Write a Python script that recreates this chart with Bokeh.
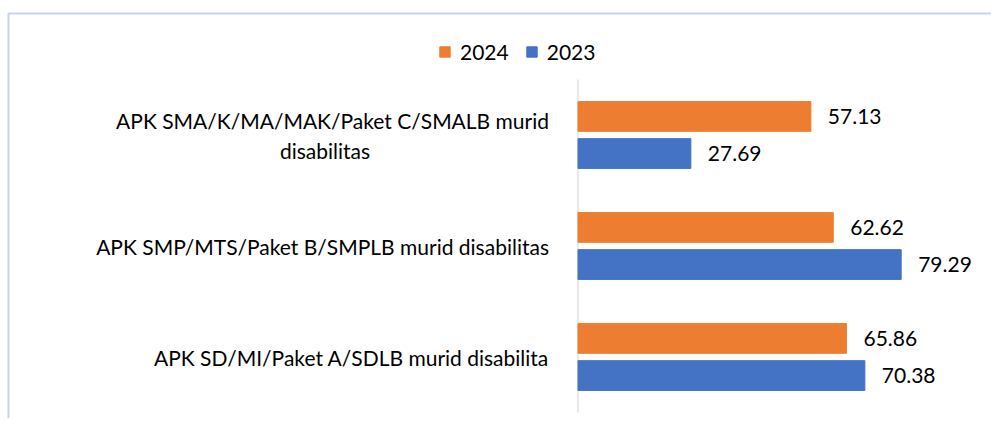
from bokeh.plotting import figure
from bokeh.models import ColumnDataSource, Range1d, Legend, LegendItem, BoxAnnotation
from bokeh.core.properties import value
from bokeh.embed import file_html
from bokeh.resources import INLINE

categories = [
    "APK SD/MI/Paket A/SDLB murid disabilita",
    "APK SMP/MTS/Paket B/SMPLB murid disabilitas",
    "APK SMA/K/MA/MAK/Paket C/SMALB murid\ndisabilitas",
]
values_2024 = [65.86, 62.62, 57.13]
values_2023 = [70.38, 79.29, 27.69]
series_names = ["2024", "2023"]
colors = ["#ED7D31", "#4472C4"]

FONT = "Lato"
FS = "21px"
TXT = "#000000"

W, H = 991, 418
# pixel layout of the plotting area inside the figure
X0_PX, PX_PER_UNIT = 577.5, 4.076
Y0_PX, PX_PER_CAT = 412.0, 111.0

pos = [i + 0.5 for i in range(len(categories))]
off = 0.167
bar_h = 0.268

src = ColumnDataSource(dict(
    y24=[p_ + off for p_ in pos],
    y23=[p_ - off for p_ in pos],
    v24=values_2024,
    v23=values_2023,
    l24=[f"{v:.2f}" for v in values_2024],
    l23=[f"{v:.2f}" for v in values_2023],
))

p = figure(
    width=W, height=H,
    x_range=Range1d(-X0_PX / PX_PER_UNIT, (W - X0_PX) / PX_PER_UNIT),
    y_range=Range1d(-(H - Y0_PX) / PX_PER_CAT, Y0_PX / PX_PER_CAT),
    output_backend="svg", toolbar_location=None,
    min_border=0,
)
p.outline_line_color = None
p.background_fill_color = "white"
p.border_fill_color = "white"
p.grid.visible = False
p.axis.visible = False

# category axis line
p.segment(x0=[0], x1=[0], y0=[0], y1=[len(categories)], line_color="#d9d9d9", line_width=1.2)

r24 = p.hbar(y="y24", right="v24", left=0, height=bar_h, source=src, color=colors[0])
r23 = p.hbar(y="y23", right="v23", left=0, height=bar_h, source=src, color=colors[1])

for ycol, lcol, vcol in (("y24", "l24", "v24"), ("y23", "l23", "v23")):
    p.text(x=vcol, y=ycol, text=lcol, source=src,
           x_offset=17, text_baseline="middle", text_align="left",
           text_font=value(FONT), text_font_size=FS, text_color=TXT)

# category labels (left of the axis line)
first_lines, first_y, first_off = [], [], []
extra_lines, extra_y, extra_off = [], [], []
LINE_SP = 30
for c, yy in zip(categories, pos):
    lines = c.split("\n")
    n = len(lines)
    for i, ln in enumerate(lines):
        yo = (i - (n - 1) / 2) * LINE_SP
        if i == 0:
            first_lines.append(ln); first_y.append(yy); first_off.append(yo)
        else:
            extra_lines.append(ln); extra_y.append(yy); extra_off.append(yo)

p.text(x=[0] * len(first_lines), y=first_y, text=first_lines, y_offset=first_off,
       x_offset=-29, text_align="right", text_baseline="middle",
       text_font=value(FONT), text_font_size=FS, text_color=TXT)
p.text(x=[0] * len(extra_lines), y=extra_y, text=extra_lines, y_offset=extra_off,
       x_offset=-253, text_align="center", text_baseline="middle",
       text_font=value(FONT), text_font_size=FS, text_color=TXT)

legend = Legend(
    items=[LegendItem(label=series_names[0], renderers=[r24]),
           LegendItem(label=series_names[1], renderers=[r23])],
    orientation="horizontal",
    location=(438, 354),
    glyph_width=13, glyph_height=13,
    label_standoff=9, spacing=16,
    label_text_font=FONT, label_text_font_size=FS, label_text_color=TXT,
    background_fill_alpha=0, border_line_color=None,
    padding=0, margin=0,
)
p.add_layout(legend, "center")

border = BoxAnnotation(left=8, right=5000, top=13, bottom=5000,
                       left_units="canvas", right_units="canvas",
                       top_units="canvas", bottom_units="canvas",
                       fill_alpha=0, line_color="#4472C4", line_width=2)
p.add_layout(border)

open("out.html", "w").write(file_html(p, INLINE))
